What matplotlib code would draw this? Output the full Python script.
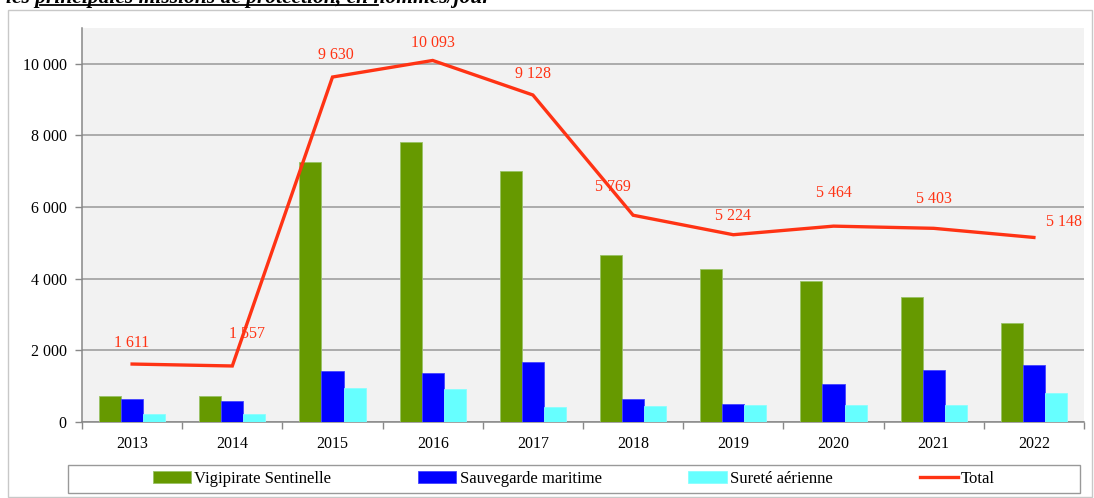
import matplotlib
matplotlib.use("Agg")
import matplotlib.pyplot as plt
from matplotlib.patches import Rectangle
from matplotlib.lines import Line2D
import numpy as np

years = ["2013", "2014", "2015", "2016", "2017", "2018", "2019", "2020", "2021", "2022"]
vigipirate = [725, 729, 7244, 7810, 7001, 4650, 4259, 3944, 3498, 2745]
sauvegarde = [642, 577, 1423, 1349, 1674, 642, 485, 1042, 1433, 1572]
surete = [206, 206, 931, 903, 419, 437, 457, 457, 457, 791]
total = [1611, 1557, 9630, 10093, 9128, 5769, 5224, 5464, 5403, 5148]
total_labels = ["1 611", "1 557", "9 630", "10 093", "9 128", "5 769", "5 224", "5 464", "5 403", "5 148"]
series_names = ["Vigipirate Sentinelle", "Sauvegarde maritime", "Sureté aérienne", "Total"]

# label offsets in pixels (style only)
label_offsets = [(0, 13), (15, 24), (3, 14), (0, 9), (0, 13), (-20, 20), (0, 11), (0, 25), (0, 21), (30, 7)]

FONT = ["Liberation Serif", "DejaVu Serif"]
plt.rcParams["font.family"] = FONT

W, H = 1094, 498
fig = plt.figure(figsize=(W / 100, H / 100), dpi=100)

def fx(px):
    return px / W

def fy(py):
    return 1 - py / H

# outer frame
fig.patches.append(Rectangle((fx(8), fy(497)), fx(1092) - fx(8), fy(10) - fy(497),
                             transform=fig.transFigure, fill=False, edgecolor="#c8c8c8", linewidth=1.0))

# clipped title at top (cut off in the reference too)
fig.text(fx(6), fy(3), "les principales missions de protection, en hommes/jour",
         fontsize=15.5, fontweight="bold", fontstyle="italic", color="black", va="baseline", ha="left")
fig.lines.append(Line2D([fx(40), fx(378)], [fy(5), fy(5)], transform=fig.transFigure,
                        color="black", linewidth=1.3))

ax = fig.add_axes([fx(82), fy(421.7), fx(1084) - fx(82), fy(28) - fy(421.7)])
ax.set_facecolor("#f2f2f2")

x = np.arange(len(years))
bw = 0.22
b1 = ax.bar(x - bw, vigipirate, bw, color="#669900", edgecolor="#99c266", linewidth=0.6, zorder=3)
b2 = ax.bar(x, sauvegarde, bw, color="#0000ff", edgecolor="#4444ff", linewidth=0.6, zorder=3)
b3 = ax.bar(x + bw, surete, bw, color="#66ffff", edgecolor="#88ffff", linewidth=0.6, zorder=3)
l1, = ax.plot(x, total, color="#ff3314", linewidth=2.4, zorder=4, solid_joinstyle="miter")

for xi, v, lab, (dx, dy) in zip(x, total, total_labels, label_offsets):
    ax.annotate(lab, (xi, v), xytext=(dx, dy), textcoords="offset pixels",
                ha="center", va="bottom", color="#ff3314", fontsize=11.5, zorder=5)

ax.set_xlim(-0.5, len(years) - 0.5)
ax.set_ylim(0, 11000)
ax.set_yticks(np.arange(0, 10001, 2000))
ax.set_yticklabels(["0", "2 000", "4 000", "6 000", "8 000", "10 000"])
ax.yaxis.grid(True, color="#999999", linewidth=1.1, zorder=1)
ax.set_axisbelow(True)

ax.set_xticks(x)
ax.set_xticklabels(years)
ax.set_xticks(np.arange(-0.5, len(years), 1.0), minor=True)
ax.tick_params(axis="x", which="major", length=0, pad=10, labelsize=11.5, colors="black")
ax.tick_params(axis="x", which="minor", length=5, color="#888888", width=1)
ax.tick_params(axis="y", length=5, color="#888888", width=1, pad=6, labelsize=11.5)

for s in ["top", "right"]:
    ax.spines[s].set_visible(False)
for s in ["left", "bottom"]:
    ax.spines[s].set_color("#888888")
    ax.spines[s].set_linewidth(1.1)

# legend box
fig.patches.append(Rectangle((fx(68), fy(493)), fx(1080) - fx(68), fy(465) - fy(493),
                             transform=fig.transFigure, fill=False, edgecolor="#999999", linewidth=1.0))
fig.legend([b1, b2, b3, l1], series_names, loc="center",
           bbox_to_anchor=((fx(68) + fx(1080)) / 2, (fy(465) + fy(493)) / 2),
           ncol=4, frameon=False, fontsize=12, handlelength=2.3, handleheight=0.7,
           handletextpad=0.2, columnspacing=5.2, borderaxespad=0, borderpad=0)

fig.savefig("out.png", dpi=100)
